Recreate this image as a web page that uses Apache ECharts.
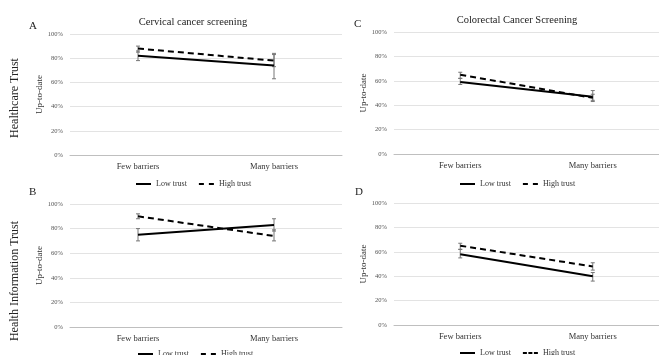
<!DOCTYPE html>
<html><head><meta charset="utf-8">
<script src="https://cdn.jsdelivr.net/npm/echarts@6/dist/echarts.min.js"></script>
<style>html,body{margin:0;padding:0;background:#fff}#c{width:659px;height:355px}</style>
</head><body><div id="c"></div>
<script>
const categories = ['Few barriers', 'Many barriers'];
const yTicks = [0, 20, 40, 60, 80, 100];
// Panel A: cervical, healthcare trust
const lowA = [82, 74], highA = [88, 78];
const lowErrA = [[78, 86], [63, 84]], highErrA = [[85, 90], [73, 83]];
// Panel B: cervical, health information trust
const lowB = [75, 83], highB = [90, 74];
const lowErrB = [[70, 80], [78, 88]], highErrB = [[88, 92], [70, 79]];
// Panel C: colorectal, healthcare trust
const lowC = [59, 47], highC = [65, 46];
const lowErrC = [[57, 62], [44, 52]], highErrC = [[62, 67], [43, 49]];
// Panel D: colorectal, health information trust
const lowD = [58, 40], highD = [65, 48];
const lowErrD = [[55, 62], [36, 43]], highErrD = [[62, 67], [45, 51]];

const FONT = 'Liberation Serif';
const grids = [
  {left: 70, top: 34, width: 272, height: 121},
  {left: 70, top: 204, width: 272, height: 123},
  {left: 394, top: 32, width: 273, height: 122},
  {left: 394, top: 203, width: 273, height: 122}
];
const panels = [[lowA, highA, lowErrA, highErrA], [lowB, highB, lowErrB, highErrB],
                [lowC, highC, lowErrC, highErrC], [lowD, highD, lowErrD, highErrD]];

const xAxis = [], yAxis = [], series = [];
grids.forEach((g, i) => {
  xAxis.push({type: 'category', gridIndex: i, data: categories, boundaryGap: true,
    axisLine: {lineStyle: {color: '#bfbfbf'}}, axisTick: {show: false},
    axisLabel: {fontFamily: FONT, fontSize: 8.5, color: '#333', margin: 7}});
  yAxis.push({type: 'value', gridIndex: i, min: 0, max: 100, interval: 20,
    name: 'Up-to-date', nameLocation: 'middle', nameRotate: 90, nameGap: 24,
    nameTextStyle: {fontFamily: FONT, fontSize: 9, color: '#333'},
    axisLine: {show: false}, axisTick: {show: false},
    splitLine: {lineStyle: {color: '#e3e3e3'}},
    axisLabel: {fontFamily: FONT, fontSize: 6.5, color: '#555', margin: 7,
      formatter: v => yTicks.includes(v) ? v + '%' : ''}});
  const [lo, hi, loE, hiE] = panels[i];
  series.push({name: 'Low trust', type: 'line', xAxisIndex: i, yAxisIndex: i, data: lo,
    symbol: 'none', lineStyle: {color: '#000', width: 2}, itemStyle: {color: '#000'}, z: 3});
  series.push({name: 'High trust', type: 'line', xAxisIndex: i, yAxisIndex: i, data: hi,
    symbol: 'none', lineStyle: {color: '#000', width: 2, type: [6, 4]}, itemStyle: {color: '#000'}, z: 3});
  const errData = [];
  loE.forEach((e, k) => errData.push([k, e[0], e[1]]));
  hiE.forEach((e, k) => errData.push([k, e[0], e[1]]));
  series.push({type: 'custom', xAxisIndex: i, yAxisIndex: i, data: errData, z: 2, silent: true,
    renderItem: (params, api) => {
      const x = api.value(0);
      const p1 = api.coord([x, api.value(1)]);
      const p2 = api.coord([x, api.value(2)]);
      const st = {stroke: '#777', lineWidth: 1};
      return {type: 'group', children: [
        {type: 'line', shape: {x1: p1[0], y1: p1[1], x2: p2[0], y2: p2[1]}, style: st},
        {type: 'line', shape: {x1: p1[0] - 2, y1: p1[1], x2: p1[0] + 2, y2: p1[1]}, style: st},
        {type: 'line', shape: {x1: p2[0] - 2, y1: p2[1], x2: p2[0] + 2, y2: p2[1]}, style: st}
      ]};
    }});
});

const solidIcon = 'path://M0,0H15V2H0Z';
const dash2Icon = 'path://M0,0H5V2H0Z M10,0H15V2H10Z';
const dash3Icon = 'path://M0,0H4V2H0Z M5.5,0H9.5V2H5.5Z M11,0H15V2H11Z';
const mkLegend = (left, top, dashIcon) => ({
  left, top, itemWidth: 15, itemHeight: 2, itemGap: 12, selectedMode: false,
  symbolKeepAspect: false,
  itemStyle: {color: '#000', borderWidth: 0},
  textStyle: {fontFamily: FONT, fontSize: 8, color: '#333'},
  data: [{name: 'Low trust', icon: solidIcon}, {name: 'High trust', icon: dashIcon}]
});
const legend = [
  mkLegend(131, 175, dash2Icon),
  mkLegend(133, 345, dash2Icon),
  mkLegend(455, 175, dash2Icon),
  mkLegend(455, 344, dash3Icon)
];

const tStyle = {fontFamily: FONT, fontSize: 10.5, color: '#222', fontWeight: 'normal'};
const title = [
  {text: 'Cervical cancer screening', left: 188, top: 12, textAlign: 'center', textStyle: tStyle},
  {text: 'Colorectal Cancer Screening', left: 512, top: 10, textAlign: 'center', textStyle: tStyle}
];

const letter = (t, x, y) => ({type: 'text', left: x, top: y,
  style: {text: t, font: '11px "Liberation Serif"', fill: '#222'}});
const graphic = [
  letter('A', 29, 21), letter('B', 29, 187), letter('C', 354, 19), letter('D', 355, 187),
  {type: 'text', x: 15, y: 98, rotation: Math.PI / 2,
    style: {text: 'Healthcare Trust', font: '12px "Liberation Serif"', fill: '#222',
      textAlign: 'center', textVerticalAlign: 'middle'}},
  {type: 'text', x: 15, y: 281, rotation: Math.PI / 2,
    style: {text: 'Health Information Trust', font: '12px "Liberation Serif"', fill: '#222',
      textAlign: 'center', textVerticalAlign: 'middle'}}
];

const chart = echarts.init(document.getElementById('c'), null, {renderer: 'canvas'});
chart.setOption({animation: false, title, grid: grids, xAxis, yAxis, series, legend, graphic});
</script></body></html>
